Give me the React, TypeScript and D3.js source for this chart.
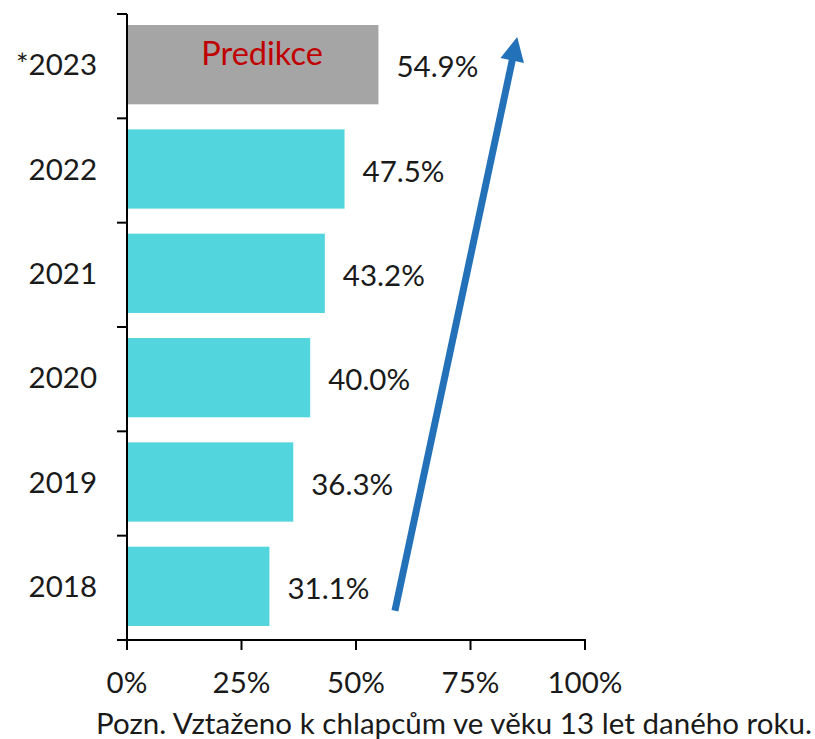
import React from "react";
import * as d3 from "d3";

const categories = ["*2023", "2022", "2021", "2020", "2019", "2018"];
const values = [54.9, 47.5, 43.2, 40.0, 36.3, 31.1];
const isPrediction = [true, false, false, false, false, false];
const xTicks = [0, 25, 50, 75, 100];
const predictionLabel = "Predikce";
const footnote = "Pozn. Vztaženo k chlapcům ve věku 13 let daného roku.";
// trend arrow annotation in data units: [percent, category, fraction within band]
const arrowFrom = { x: 58.5, cat: "2018", frac: 0.72 };
const arrowTo = { x: 85.2, cat: "*2023", frac: 0.22 };

const W = 815;
const H = 739;
const FONT = "Lato, 'Open Sans', sans-serif";
const TEXT = "#1a1a1a";
const FS = 29.5;

export default function App() {
  const x = d3.scaleLinear().domain([0, 100]).range([127, 585]);
  const y = d3
    .scaleBand<string>()
    .domain(categories)
    .range([14, 640])
    .paddingInner(0.24)
    .paddingOuter(0.12);
  const step = y.step();
  const bw = y.bandwidth();
  const bandTop = (c: string) => (y(c) as number) - y.paddingInner() * step / 2;
  const bandCenter = (c: string) => bandTop(c) + step / 2;
  const boundaries = d3.range(categories.length + 1).map((i) => 14 + i * step);
  const fmt = (v: number) => v.toFixed(1) + "%";

  const ax1 = x(arrowFrom.x);
  const ay1 = bandTop(arrowFrom.cat) + arrowFrom.frac * step;
  const ax2 = x(arrowTo.x);
  const ay2 = bandTop(arrowTo.cat) + arrowTo.frac * step;
  const ang = Math.atan2(ay2 - ay1, ax2 - ax1);
  const headLen = 24;
  const headHalf = 12;
  const bx = ax2 - headLen * Math.cos(ang);
  const by = ay2 - headLen * Math.sin(ang);
  const px = -Math.sin(ang);
  const py = Math.cos(ang);
  const head = [
    [ax2, ay2],
    [bx + px * headHalf, by + py * headHalf],
    [bx - px * headHalf, by - py * headHalf],
  ];

  return (
    <svg
      width={W}
      height={H}
      style={{ position: "absolute", left: 0, top: 0, background: "#fff" }}
      fontFamily={FONT}
    >
      {categories.map((c, i) => (
        <rect
          key={c}
          x={x(0)}
          y={(y(c) as number) - 1.5}
          width={x(values[i]) - x(0)}
          height={bw}
          fill={isPrediction[i] ? "#A5A5A5" : "#53D5DE"}
        />
      ))}
      {categories.map((c, i) =>
        isPrediction[i] ? (
          <text
            key={"p" + c}
            x={x(29.5)}
            y={bandCenter(c) - 1}
            textAnchor="middle"
            fontSize={32.5}
            fill="#C00000"
          >
            {predictionLabel}
          </text>
        ) : null
      )}
      {categories.map((c, i) => (
        <text
          key={"v" + c}
          x={x(values[i]) + 18}
          y={bandCenter(c) + 11}
          fontSize={FS}
          fill={TEXT}
        >
          {fmt(values[i])}
        </text>
      ))}
      {categories.map((c) => (
        <text
          key={"c" + c}
          x={97}
          y={bandCenter(c) + 9}
          textAnchor="end"
          fontSize={FS}
          fill={TEXT}
        >
          {c}
        </text>
      ))}
      {/* axes */}
      <line x1={x(0)} x2={x(0)} y1={14} y2={641} stroke="#000" strokeWidth={2} />
      <line x1={x(0) - 1} x2={x(100) + 1} y1={640} y2={640} stroke="#000" strokeWidth={2} />
      {boundaries.map((b, i) => (
        <line key={"yt" + i} x1={117} x2={x(0)} y1={b} y2={b} stroke="#000" strokeWidth={2} />
      ))}
      {xTicks.map((t) => (
        <line key={"xt" + t} x1={x(t)} x2={x(t)} y1={640} y2={650} stroke="#000" strokeWidth={2} />
      ))}
      {xTicks.map((t) => (
        <text
          key={"xl" + t}
          x={x(t)}
          y={693}
          textAnchor="middle"
          fontSize={FS}
          fill={TEXT}
        >
          {t + "%"}
        </text>
      ))}
      <text x={96} y={734} fontSize={FS} fill={TEXT} textLength={716} lengthAdjust="spacing">
        {footnote}
      </text>
      {/* trend arrow */}
      <line x1={ax1} y1={ay1} x2={bx + 2 * Math.cos(ang)} y2={by + 2 * Math.sin(ang)} stroke="#2371B8" strokeWidth={7} />
      <polygon points={head.map((p) => p.join(",")).join(" ")} fill="#2371B8" />
    </svg>
  );
}
